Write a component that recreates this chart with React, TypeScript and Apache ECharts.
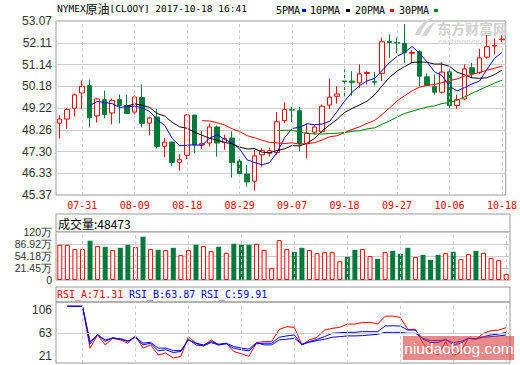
import React, { useEffect, useRef } from 'react';
import * as echarts from 'echarts';

const DATES = [
  '07-26', '07-27', '07-28', '07-31', '08-01', '08-02', '08-03', '08-04', '08-07', '08-08',
  '08-09', '08-10', '08-11', '08-14', '08-15', '08-16', '08-17', '08-18', '08-21', '08-22',
  '08-23', '08-24', '08-25', '08-28', '08-29', '08-30', '08-31', '09-01', '09-04', '09-05',
  '09-06', '09-07', '09-08', '09-11', '09-12', '09-13', '09-14', '09-15', '09-18', '09-19',
  '09-20', '09-21', '09-22', '09-25', '09-26', '09-27', '09-28', '09-29', '10-02', '10-03',
  '10-04', '10-05', '10-06', '10-10', '10-11', '10-12', '10-13', '10-16', '10-17', '10-18',
];

const OPEN = [
  48.55, 48.73, 49.21, 49.89, 50.21, 48.87, 49.59, 49.0, 49.59, 49.33,
  49.04, 49.68, 48.55, 48.82, 47.53, 47.71, 46.82, 47.13, 48.91, 47.58,
  47.67, 48.38, 47.7, 47.89, 46.87, 46.3, 45.98, 47.15, 47.22, 47.25,
  48.66, 49.15, 49.1, 47.64, 48.15, 48.17, 49.35, 49.74, 50.42, 50.41,
  50.33, 50.75, 50.39, 50.75, 52.17, 52.12, 52.08, 51.64, 51.71, 50.6,
  50.18, 49.92, 50.82, 49.33, 49.62, 51.0, 50.78, 51.47, 51.96, 52.24,
];
const CLOSE = [
  48.73, 49.15, 49.8, 50.18, 48.79, 49.62, 48.93, 49.55, 49.33, 48.98,
  49.71, 48.54, 48.78, 47.52, 47.71, 46.81, 46.93, 48.91, 47.58, 47.64,
  48.38, 47.67, 47.87, 46.81, 46.32, 45.95, 47.1, 47.34, 47.33, 48.61,
  49.15, 49.12, 47.64, 48.11, 48.38, 49.3, 49.7, 49.84, 50.39, 50.36,
  50.73, 50.79, 50.36, 52.15, 52.12, 52.09, 51.67, 51.68, 50.63, 50.23,
  49.92, 50.81, 49.33, 49.59, 50.95, 50.75, 51.44, 51.93, 52.0, 52.27,
];
const LOW = [
  47.87, 48.29, 48.85, 49.18, 48.36, 48.58, 48.76, 48.5, 48.54, 48.95,
  48.95, 48.36, 48.01, 47.43, 47.04, 46.67, 46.45, 46.96, 47.22, 47.4,
  47.52, 47.07, 47.37, 46.14, 46.19, 45.74, 45.56, 46.63, 47.07, 47.15,
  48.55, 48.6, 47.3, 47.0, 48.04, 48.11, 49.18, 49.41, 49.74, 49.77,
  50.11, 50.26, 50.21, 50.41, 51.44, 51.64, 51.22, 51.22, 50.18, 50.18,
  49.81, 49.86, 49.12, 49.18, 49.56, 50.55, 50.73, 51.4, 51.59, 52.14,
];
const HIGH = [
  48.9, 49.22, 49.86, 50.44, 50.48, 49.67, 49.99, 49.64, 49.81, 49.81,
  49.77, 50.26, 48.85, 49.18, 47.9, 47.75, 47.18, 48.94, 48.91, 48.21,
  48.53, 48.44, 48.04, 48.18, 47.07, 46.7, 47.37, 47.44, 47.47, 49.03,
  49.47, 49.27, 49.27, 48.53, 48.48, 49.37, 50.51, 50.18, 50.93, 50.85,
  51.15, 50.85, 50.82, 52.33, 52.48, 52.33, 52.93, 51.78, 51.78, 50.75,
  50.7, 51.25, 51.0, 49.81, 51.15, 51.22, 51.84, 52.44, 52.3, 52.44,
];

// volume, in 万
const VOLUME = [
  88.1, 88.1, 77.2, 77.2, 98.2, 84.7, 83.1, 74.7, 80.5, 88.1,
  82.2, 108.2, 77.2, 75.5, 74.7, 80.5, 62.1, 74.7, 88.1, 84.7,
  72.2, 83.1, 68.0, 90.6, 88.1, 88.1, 90.6, 75.5, 29.4, 99.8,
  77.2, 70.5, 80.5, 74.7, 67.1, 69.6, 69.6, 47.0, 57.9, 75.5,
  77.2, 59.6, 52.9, 69.6, 73.0, 65.4, 80.5, 57.1, 62.9, 50.3,
  62.9, 67.1, 70.5, 52.0, 64.6, 73.0, 68.0, 55.4, 49.5, 15.1,
];

const RSI_A = [
  null, 113.4, 113.4, 113.4, 35.2, 59.8, 41.3, 53.6, 50.6, 44.4,
  58.0, 35.2, 41.3, 22.8, 25.9, 16.7, 19.8, 56.7, 44.4, 39.5,
  50.6, 41.3, 44.4, 29.0, 24.7, 19.8, 45.6, 47.5, 47.5, 70.3,
  75.2, 74.0, 41.3, 50.6, 55.5, 69.0, 72.1, 74.0, 80.1, 80.1,
  83.2, 83.2, 80.1, 94.9, 94.9, 92.4, 70.3, 70.3, 44.4, 29.0,
  22.8, 47.5, 21.0, 29.0, 53.6, 51.8, 62.9, 67.8, 69.0, 73.4,
];
const RSI_B = [
  null, 113.4, 113.4, 113.4, 43.2, 61.0, 47.5, 54.9, 51.8, 47.5,
  56.7, 41.3, 44.4, 30.2, 32.1, 27.1, 29.0, 51.8, 41.3, 39.5,
  45.6, 41.3, 43.2, 35.2, 32.1, 30.2, 43.2, 44.4, 44.4, 55.5,
  58.0, 59.8, 41.3, 47.5, 51.8, 56.7, 62.9, 64.1, 64.7, 64.7,
  66.0, 66.0, 66.0, 76.4, 77.0, 76.4, 69.0, 69.0, 51.8, 45.6,
  45.6, 51.8, 41.3, 44.4, 53.6, 52.4, 56.7, 59.8, 61.6, 64.7,
];
const RSI_C = [
  null, 113.4, 113.4, 113.4, 47.5, 59.8, 50.6, 53.6, 53.0, 48.7,
  55.5, 44.4, 46.2, 35.2, 35.2, 30.8, 30.8, 50.6, 44.4, 41.3,
  47.5, 42.6, 44.4, 38.2, 35.2, 33.3, 45.6, 41.3, 41.3, 50.6,
  51.8, 53.6, 42.6, 46.2, 49.3, 51.8, 55.5, 56.7, 58.0, 58.0,
  58.6, 59.8, 61.0, 64.7, 64.7, 64.7, 62.9, 62.9, 53.6, 49.3,
  49.3, 50.6, 45.6, 47.5, 53.6, 52.4, 55.5, 56.7, 58.0, 59.8,
];

const LABEL_DATES = ['07-31', '08-09', '08-18', '08-29', '09-07', '09-18', '09-27', '10-06', '10-18'];
const PRICE_TICKS = ['45.37', '46.33', '47.30', '48.26', '49.22', '50.18', '51.14', '52.11', '53.07'];
const VOL_TICKS = ['0', '21.45万', '54.18万', '86.92万', '120万'];
const RSI_TICKS = [21, 63, 106];
const RSI_EXTENT = [7.5, 121.3];
const MA_PERIODS = [5, 10, 20, 30];
const MA_NAMES = ['5PMA', '10PMA', '20PMA', '30PMA'];

const TITLE_CODE = 'NYMEX';
const TITLE_NAME = '原油';
const TITLE_REST = '[CLOOY] 2017-10-18 16:41';
const VOL_HEADER = '成交量:48473';
const RSI_HEADER = ['RSI_A:71.31', 'RSI_B:63.87', 'RSI_C:59.91'];

const RED = '#ff0000';
const GREEN = '#00793a';
const BLUE = '#0000ff';
const MA_COLORS = [BLUE, '#000000', RED, '#008000'];
const RSI_COLORS = [RED, BLUE, BLUE];
const GRIDLINE = '#cccccc';
const BORDER = '#999999';
const MONO = '"DejaVu Sans Mono", monospace';
const SANS = '"Liberation Sans", Arial, sans-serif';
const CJK = '"Noto Sans CJK SC", sans-serif';

echarts.graphic.registerShape(
  'emlogo',
  echarts.graphic.extendPath(
    'M0,18 C3,9 10,3 19,0 C13,4 8,10 5,18 Z M7,19 C10,12 15,7 21,5 C17,9 14,14 12,19 Z',
    {}
  )
);

function movingAverage(values: number[], n: number) {
  return values.map((_, i) => {
    if (i < n - 1) return '-';
    let s = 0;
    for (let k = i - n + 1; k <= i; k++) s += values[k];
    return +(s / n).toFixed(3);
  });
}

function buildOption() {
  const priceMin = parseFloat(PRICE_TICKS[0]);
  const priceMax = parseFloat(PRICE_TICKS[PRICE_TICKS.length - 1]);
  const priceStep = (priceMax - priceMin) / (PRICE_TICKS.length - 1);
  const volMax = parseFloat(VOL_TICKS[VOL_TICKS.length - 1]);
  const volStep = volMax / (VOL_TICKS.length - 1);
  const labelSet = new Set(LABEL_DATES);

  const vLines = {
    silent: true,
    symbol: ['none', 'none'],
    label: { show: false },
    lineStyle: { color: GRIDLINE, type: [3, 3], width: 1 },
    emphasis: { disabled: true },
    data: LABEL_DATES.map((d) => ({ xAxis: d })),
  };

  const gridBase = { show: true, borderColor: BORDER, borderWidth: 1, backgroundColor: 'transparent' };

  const xAxes = [0, 1, 2].map((gi) => ({
    type: 'category',
    gridIndex: gi,
    data: DATES,
    boundaryGap: true,
    axisLine: { show: false },
    axisTick: { show: false },
    splitLine: { show: false },
    axisLabel:
      gi === 0
        ? {
            show: true,
            interval: (_idx: number, val: string) => labelSet.has(val),
            color: RED,
            fontFamily: MONO,
            fontSize: 10,
            margin: 5,
          }
        : { show: false },
  }));

  const axisLabelBase = { color: '#333', fontFamily: SANS, fontSize: 12, margin: 4 };

  const maSeries = MA_PERIODS.map((p, k) => ({
    type: 'line',
    name: MA_NAMES[k],
    xAxisIndex: 0,
    yAxisIndex: 0,
    data: movingAverage(CLOSE, p),
    symbol: 'none',
    showSymbol: false,
    lineStyle: { color: MA_COLORS[k], width: 1 },
    itemStyle: { color: MA_COLORS[k] },
    z: 3,
  }));

  const legendGraphics: any[] = [];
  const legendTextX = [276, 310, 355, 399];
  const legendRectX = [302, 346, 390, 434];
  MA_NAMES.forEach((name, k) => {
    legendGraphics.push({
      type: 'text',
      x: legendTextX[k],
      y: 10,
      style: { text: name, font: `10px ${MONO}`, fill: '#000', verticalAlign: 'middle', textVerticalAlign: 'middle' },
    });
    legendGraphics.push({
      type: 'rect',
      shape: { x: legendRectX[k], y: 9, width: 4, height: 3 },
      style: { fill: MA_COLORS[k] },
    });
  });

  const rsiHeaderX = [57, 129, 201];
  const rsiHeaderGraphics = RSI_HEADER.map((t, k) => ({
    type: 'text',
    x: rsiHeaderX[k],
    y: 294,
    style: { text: t, font: `10px ${MONO}`, fill: RSI_COLORS[k], verticalAlign: 'middle', textVerticalAlign: 'middle' },
  }));

  return {
    animation: false,
    backgroundColor: '#ffffff',
    grid: [
      { ...gridBase, left: 56, top: 21, width: 454, height: 174 },
      { ...gridBase, left: 56, top: 232, width: 454, height: 48 },
      { ...gridBase, left: 56, top: 302, width: 454, height: 61 },
    ],
    xAxis: xAxes,
    yAxis: [
      {
        type: 'value',
        gridIndex: 0,
        min: priceMin,
        max: priceMax,
        interval: priceStep,
        axisLine: { show: false },
        axisTick: { show: false },
        splitLine: { show: true, lineStyle: { color: GRIDLINE, width: 1 } },
        axisLabel: {
          ...axisLabelBase,
          formatter: (v: number) => PRICE_TICKS[Math.round((v - priceMin) / priceStep)] ?? '',
        },
      },
      {
        type: 'value',
        gridIndex: 1,
        min: 0,
        max: volMax,
        interval: volStep,
        axisLine: { show: false },
        axisTick: { show: false },
        splitLine: { show: true, lineStyle: { color: GRIDLINE, width: 1 } },
        axisLabel: {
          ...axisLabelBase,
          fontSize: 10.5,
          formatter: (v: number) => VOL_TICKS[Math.round(v / volStep)] ?? '',
        },
      },
      {
        type: 'value',
        gridIndex: 2,
        min: RSI_EXTENT[0],
        max: RSI_EXTENT[1],
        axisLine: { show: false },
        axisTick: { show: false },
        splitLine: { show: false },
        axisLabel: { ...axisLabelBase, customValues: RSI_TICKS, formatter: (v: number) => String(v) },
      },
    ],
    graphic: [
      {
        type: 'text',
        x: 57,
        y: 8,
        style: {
          text: `{a|${TITLE_CODE}}{c|${TITLE_NAME}}{a|${TITLE_REST}}`,
          rich: {
            a: { font: `9.5px ${MONO}`, fill: '#000' },
            c: { font: `12px ${CJK}`, fill: '#000' },
          },
          verticalAlign: 'middle',
          textVerticalAlign: 'middle',
        },
      },
      ...legendGraphics,
      {
        type: 'emlogo',
        x: 415,
        y: 17,
        z: 1,
        style: { fill: '#d4d4d4' },
      },
      {
        type: 'text',
        x: 437,
        y: 28,
        z: 1,
        style: { text: '东方财富网', font: `bold 14px ${CJK}`, fill: '#d0d0d0', verticalAlign: 'middle', textVerticalAlign: 'middle' },
      },
      {
        type: 'text',
        x: 438,
        y: 41.5,
        z: 1,
        style: { text: 'eastmoney.com', font: `bold 8px ${SANS}`, fill: '#dcdcdc', verticalAlign: 'middle', textVerticalAlign: 'middle' },
      },
      {
        type: 'rect',
        shape: { x: 56, y: 214, width: 454, height: 18 },
        style: { fill: 'none', stroke: BORDER, lineWidth: 1 },
      },
      {
        type: 'text',
        x: 58,
        y: 223,
        style: { text: VOL_HEADER, font: `12px ${CJK}`, fill: '#000', verticalAlign: 'middle', textVerticalAlign: 'middle' },
      },
      {
        type: 'rect',
        shape: { x: 56, y: 287, width: 454, height: 15 },
        style: { fill: 'none', stroke: BORDER, lineWidth: 1 },
      },
      ...rsiHeaderGraphics,
      {
        type: 'rect',
        z: 100,
        shape: { x: 403, y: 336, width: 111, height: 24 },
        style: { fill: 'rgba(218,60,60,0.6)' },
      },
      {
        type: 'text',
        z: 101,
        x: 459,
        y: 348,
        style: {
          text: 'niudaoblog.com',
          font: `15.5px ${SANS}`,
          fill: '#ffffff',
          align: 'center',
          textAlign: 'center',
          verticalAlign: 'middle',
          textVerticalAlign: 'middle',
        },
      },
    ],
    series: [
      {
        type: 'candlestick',
        xAxisIndex: 0,
        yAxisIndex: 0,
        barWidth: 5,
        data: DATES.map((_, i) => [OPEN[i], CLOSE[i], LOW[i], HIGH[i]]),
        itemStyle: { color: '#ffffff', color0: GREEN, borderColor: RED, borderColor0: GREEN, borderWidth: 1 },
        markLine: vLines,
        z: 2,
      },
      ...maSeries,
      {
        type: 'bar',
        xAxisIndex: 1,
        yAxisIndex: 1,
        barWidth: 5,
        data: VOLUME.map((v, i) => {
          const up = CLOSE[i] >= OPEN[i];
          return {
            value: v,
            itemStyle: up
              ? { color: '#ffffff', borderColor: RED, borderWidth: 1 }
              : { color: GREEN, borderColor: GREEN, borderWidth: 0 },
          };
        }),
        markLine: vLines,
      },
      ...[RSI_A, RSI_B, RSI_C].map((d, k) => ({
        type: 'line',
        name: RSI_HEADER[k].split(':')[0],
        xAxisIndex: 2,
        yAxisIndex: 2,
        data: d,
        symbol: 'none',
        lineStyle: { color: RSI_COLORS[k], width: 1 },
        ...(k === 0
          ? {
              markLine: {
                ...vLines,
                data: [
                  ...vLines.data,
                  { yAxis: RSI_TICKS[1], lineStyle: { type: 'solid', color: GRIDLINE, width: 1 } },
                ],
              },
            }
          : {}),
      })),
    ],
  };
}

export default function App() {
  const ref = useRef<HTMLDivElement>(null);
  useEffect(() => {
    if (!ref.current) return;
    const chart = echarts.init(ref.current, undefined, { renderer: 'svg' });
    chart.setOption(buildOption() as any);
    return () => chart.dispose();
  }, []);
  return (
    <div
      ref={ref}
      style={{ position: 'absolute', left: 0, top: 0, width: 520, height: 365, background: '#fff' }}
    />
  );
}
